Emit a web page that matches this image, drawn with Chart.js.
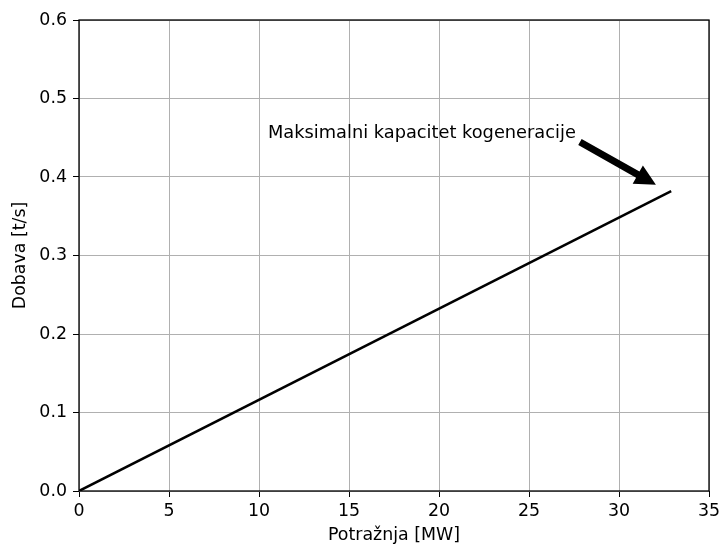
<!DOCTYPE html>
<html>
<head>
<meta charset="utf-8">
<script src="https://cdn.jsdelivr.net/npm/chart.js@4"></script>
<style>
html,body{margin:0;padding:0;background:#fff;}
canvas{display:block;}
</style>
</head>
<body>
<canvas id="c" width="719" height="546"></canvas>
<script>
const lineX = [0, 32.9];
const lineY = [0, 0.382];
const xTicks = [0, 5, 10, 15, 20, 25, 30, 35];
const yTicks = [0.0, 0.1, 0.2, 0.3, 0.4, 0.5, 0.6];
const xLabel = 'Potražnja [MW]';
const yLabel = 'Dobava [t/s]';
const annText = 'Maksimalni kapacitet kogeneracije';
const annTextPos = [10.5, 0.45];
const arrowTail = [27.83, 0.4446];
const arrowTip = [32.05, 0.39];

const FONT = 'DejaVu Sans';
const FS = 17.4;

const framePlugin = {
  id: 'frame',
  afterDraw(chart) {
    const {ctx, chartArea: a, scales} = chart;
    ctx.save();
    ctx.strokeStyle = '#000';
    ctx.lineWidth = 1.3;
    ctx.strokeRect(a.left, a.top, a.right - a.left, a.bottom - a.top);
    const xs = scales.x, ys = scales.y;
    ctx.fillStyle = '#000';
    ctx.font = '17.8px "' + FONT + '"';
    ctx.textBaseline = 'alphabetic';
    ctx.textAlign = 'left';
    ctx.fillText(annText, xs.getPixelForValue(annTextPos[0]), ys.getPixelForValue(annTextPos[1]));
    const x0 = xs.getPixelForValue(arrowTail[0]), y0 = ys.getPixelForValue(arrowTail[1]);
    const x1 = xs.getPixelForValue(arrowTip[0]), y1 = ys.getPixelForValue(arrowTip[1]);
    const dx = x1 - x0, dy = y1 - y0, L = Math.hypot(dx, dy);
    const ux = dx / L, uy = dy / L, nx = -uy, ny = ux;
    const w = 3.45, hw = 10.4, hl = 20.8;
    const bx = x1 - ux * hl, by = y1 - uy * hl;
    ctx.beginPath();
    ctx.moveTo(x0 + nx * w, y0 + ny * w);
    ctx.lineTo(bx + nx * w, by + ny * w);
    ctx.lineTo(bx + nx * hw, by + ny * hw);
    ctx.lineTo(x1, y1);
    ctx.lineTo(bx - nx * hw, by - ny * hw);
    ctx.lineTo(bx - nx * w, by - ny * w);
    ctx.lineTo(x0 - nx * w, y0 - ny * w);
    ctx.closePath();
    ctx.fill();
    ctx.restore();
  }
};

new Chart(document.getElementById('c'), {
  type: 'scatter',
  data: {
    datasets: [{
      data: lineX.map((x, i) => ({x: x, y: lineY[i]})),
      showLine: true,
      borderColor: '#000',
      borderWidth: 2.5,
      pointRadius: 0,
      fill: false
    }]
  },
  options: {
    responsive: false,
    animation: false,
    devicePixelRatio: 1,
    layout: {padding: {top: 20, right: 10, left: 0, bottom: 0}},
    plugins: {legend: {display: false}, tooltip: {enabled: false}},
    scales: {
      x: {
        type: 'linear', min: 0, max: 35,
        afterBuildTicks(s) { s.ticks = xTicks.map(v => ({value: v})); },
        afterFit(s) { s.height = 55; s.paddingLeft = 0; s.paddingRight = 0; },
        grid: {color: '#b0b0b0', lineWidth: 1, tickLength: 6, tickColor: '#000', drawTicks: true},
        border: {display: false},
        ticks: {color: '#000', font: {family: FONT, size: FS}, padding: 4, maxRotation: 0, autoSkip: false},
        title: {display: true, text: xLabel, color: '#000', font: {family: FONT, size: FS}, padding: {top: 0, bottom: 0}}
      },
      y: {
        type: 'linear', min: 0, max: 0.6,
        afterBuildTicks(s) { s.ticks = yTicks.map(v => ({value: v})); },
        afterFit(s) { s.width = 79; s.paddingTop = 0; s.paddingBottom = 0; },
        grid: {color: '#b0b0b0', lineWidth: 1, tickLength: 6, tickColor: '#000', drawTicks: true},
        border: {display: false},
        ticks: {color: '#000', font: {family: FONT, size: FS}, padding: 6, autoSkip: false,
          callback: v => Number(v).toFixed(1)},
        title: {display: true, text: yLabel, color: '#000', font: {family: FONT, size: FS}, padding: {top: 10, bottom: 10}}
      }
    }
  },
  plugins: [framePlugin]
});
</script>
</body>
</html>
